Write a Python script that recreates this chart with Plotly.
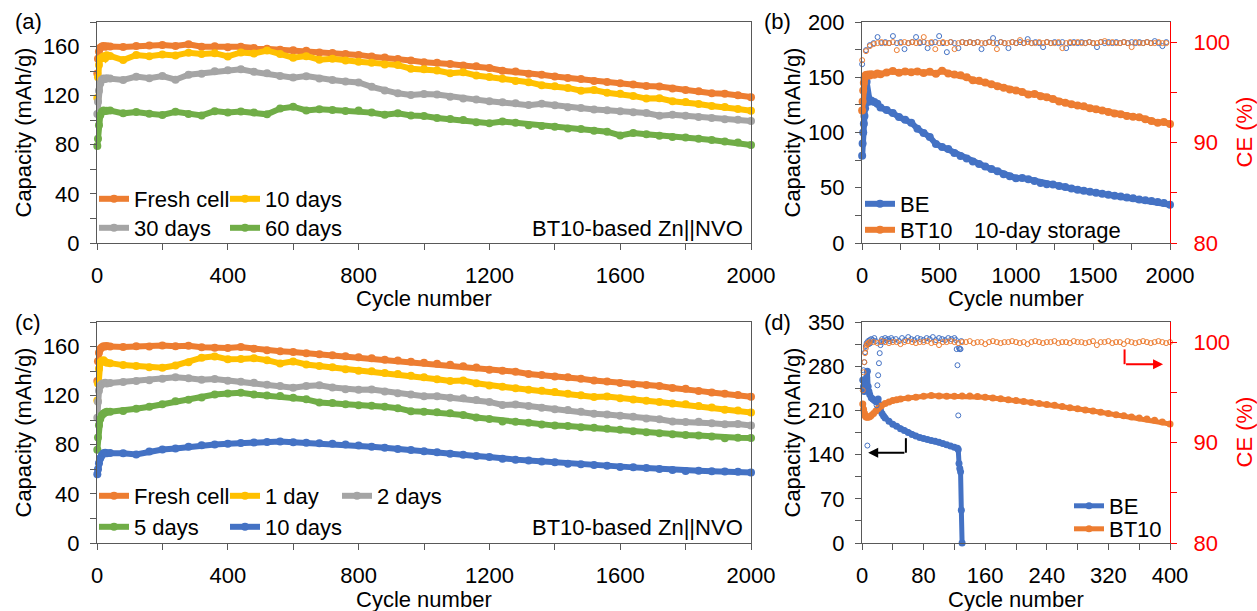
import plotly.graph_objects as go

W, H = 1257, 611
FONT = "Arial, 'Liberation Sans', sans-serif"
AX = "#595959"
C_OR, C_YE, C_GR, C_GN, C_BL = "#ED7D31", "#FFC000", "#A5A5A5", "#70AD47", "#4472C4"
RED = "#FF0000"

# ---------------- data ----------------
ac_x = [1, 3, 6, 10, 15, 20, 25, 30] + list(range(40, 2001, 40))

fresh_a = [138, 150, 156, 159, 160, 160.5, 159.8, 160.3,
           160.1, 159.6, 160.4, 160.9, 161.3, 160.5, 161.8, 159.9, 160.2, 159.4,
           159.9, 158.8, 158.2, 157.5, 156.9, 156.6, 155.2, 154.8, 153.9, 153.2,
           151.8, 151.0, 149.9, 148.6, 147.3, 146.9, 145.8, 144.6, 143.9, 142.5,
           140.3, 139.6, 137.9, 137.0, 135.6, 134.4, 133.5, 132.0, 131.1, 130.2,
           129.0, 127.9, 127.4, 125.9, 124.6, 123.5, 122.0, 121.6, 120.3, 118.8]
d10_a = [118, 135, 145, 150, 151, 152, 150.5, 153,
         152.4, 149.0, 153.1, 152.2, 153.6, 152.7, 155.0, 153.9, 154.6, 152.0,
         155.2, 154.3, 156.8, 153.9, 150.9, 152.2, 149.3, 150.1, 148.6, 147.7,
         146.9, 145.3, 144.9, 142.0, 141.6, 140.5, 138.3, 139.0, 136.4, 135.2,
         133.8, 131.9, 131.0, 128.5, 127.6, 126.3, 124.0, 124.6, 122.4, 121.5,
         119.8, 117.6, 117.9, 115.5, 114.9, 113.2, 111.6, 110.8, 109.2, 107.7]
d30_a = [105, 115, 124, 130, 133, 134, 133.5, 134.2,
         133.9, 132.8, 135.5, 134.2, 136.0, 133.0, 137.1, 137.9, 139.8, 140.6,
         141.5, 139.4, 138.2, 136.0, 134.7, 135.9, 134.0, 132.8, 131.5, 130.8,
         127.2, 124.3, 121.9, 120.5, 121.4, 121.0, 119.2, 117.6, 116.8, 115.5,
         114.6, 113.9, 112.3, 113.5, 112.2, 110.6, 109.9, 108.7, 108.2, 107.4,
         106.5, 105.8, 103.7, 104.5, 103.6, 102.7, 101.9, 100.8, 100.4, 99.3]
d60_a = [79, 85, 96, 104, 107, 108, 107.5, 107.8,
         107.9, 105.6, 106.6, 105.2, 104.3, 106.8, 105.0, 103.9, 107.4, 106.3,
         107.1, 106.2, 104.8, 109.5, 111.0, 108.0, 108.9, 108.4, 107.6, 107.9,
         106.2, 104.5, 105.6, 103.9, 103.5, 101.8, 100.9, 100.2, 98.4, 97.6,
         98.9, 98.0, 96.0, 95.3, 94.6, 93.2, 92.8, 91.5, 90.7, 87.6,
         89.6, 88.5, 87.3, 86.3, 86.0, 84.9, 83.9, 82.6, 81.8, 79.9]

fresh_c = [132, 148, 155, 158, 159.5, 160.2, 160.0, 160.4,
           160.0, 159.6, 160.3, 160.0, 160.9, 160.2, 160.6, 159.5, 159.0, 158.9,
           159.6, 158.2, 157.0, 156.2, 155.5, 154.6, 153.7, 152.9, 152.2, 151.2,
           150.4, 149.3, 148.7, 147.6, 146.8, 146.0, 145.1, 144.0, 142.9, 141.2,
           140.3, 139.5, 137.6, 136.9, 135.6, 134.9, 133.8, 132.4, 131.6, 130.3,
           129.4, 128.6, 127.9, 126.3, 125.6, 123.9, 122.6, 121.6, 120.6, 119.1]
d1_c = [116, 130, 142, 147, 148.5, 148.8, 147.5, 146.8,
        146.5, 144.9, 144.1, 143.2, 142.8, 144.6, 147.2, 150.9, 152.0, 149.6,
        149.8, 150.5, 148.9, 146.2, 147.9, 145.4, 144.2, 143.1, 141.5, 140.2,
        139.8, 138.4, 137.6, 136.2, 135.0, 133.4, 131.9, 132.4, 130.1, 128.2,
        127.3, 126.0, 124.9, 124.0, 122.9, 121.6, 120.4, 119.0, 119.4, 117.9,
        116.8, 115.9, 114.8, 113.6, 113.1, 111.5, 110.4, 108.6, 108.0, 106.3]
d2_c = [102, 115, 124, 128, 129.5, 130.2, 130.6, 130.0,
        130.4, 131.1, 132.0, 132.5, 133.8, 134.9, 134.1, 133.0, 133.6, 132.2,
        131.4, 130.6, 128.9, 127.8, 126.4, 127.8, 128.4, 126.6, 125.2, 124.8,
        125.1, 123.4, 122.0, 120.9, 119.5, 119.6, 118.3, 117.8, 116.5, 114.9,
        112.4, 112.8, 111.6, 110.2, 108.9, 108.4, 106.8, 105.2, 104.6, 103.7,
        102.9, 101.4, 100.8, 98.9, 98.6, 98.8, 97.5, 96.8, 97.0, 95.6]
d5_c = [76, 86, 96, 101, 104, 105.5, 106.3, 106.8,
        106.9, 107.6, 109.4, 111.0, 113.0, 115.4, 116.6, 118.5, 120.9, 121.8,
        122.3, 121.0, 120.1, 119.7, 118.4, 117.0, 114.5, 114.0, 113.0, 112.2,
        111.8, 111.0, 109.8, 107.3, 107.0, 106.4, 105.6, 104.3, 102.2, 100.9,
        99.0, 98.8, 97.9, 96.5, 95.6, 95.2, 94.3, 93.9, 93.0, 92.2,
        91.0, 90.3, 89.4, 88.6, 87.9, 87.6, 86.8, 85.4, 85.8, 85.5]
d10_c = [56, 60, 65, 69, 71.5, 73, 73.5, 73.2,
         73.4, 73.0, 72.1, 74.6, 76.2, 77.0, 78.4, 79.6, 80.3, 80.8,
         81.5, 81.9, 82.3, 82.6, 82.1, 81.6, 81.2, 80.9, 80.2, 79.4,
         78.4, 77.6, 76.5, 75.8, 74.8, 73.9, 72.7, 71.8, 70.9, 70.1,
         68.6, 67.9, 67.2, 66.4, 65.7, 64.6, 64.1, 63.5, 62.9, 62.0,
         61.6, 61.0, 60.3, 59.4, 58.6, 58.9, 58.5, 58.3, 58.0, 57.5]

b_x = [1, 4, 8, 12, 16, 20, 25, 30, 40, 50, 60, 80, 100] + list(range(120, 2001, 40))
be_b = [79, 90, 100, 108, 115, 122, 135, 146, 131, 128, 129, 127.5, 126,
        122.6, 120.4, 117.6, 114.0, 111.5, 108.9, 103.5, 99.5, 96.0, 89.5,
        86.8, 85.0, 81.5, 78.8, 76.4, 73.8, 71.5, 69.2, 67.0, 64.9,
        62.3, 60.3, 58.7, 58.9, 57.6, 56.0, 54.4, 53.2, 53.0, 51.5,
        50.6, 49.3, 48.1, 47.2, 46.4, 45.5, 44.6, 43.6, 42.8, 42.0,
        41.2, 40.5, 39.4, 38.6, 37.9, 37.1, 36.2, 34.6]
bt10_b = [120, 128, 138, 145, 149, 151, 152, 151.5, 152.4, 151.6, 152.8, 152.2, 153.5,
          152.7, 154.3, 155.6, 154.0, 155.2, 154.6, 155.3, 153.8, 154.9, 153.1,
          155.8, 153.5, 152.4, 151.8, 149.9, 147.3, 146.8, 145.2, 143.6, 141.9,
          140.4, 138.9, 138.1, 136.7, 134.5, 134.9, 132.8, 131.9, 130.3, 128.0,
          126.9, 125.6, 124.4, 123.7, 121.9, 121.0, 119.8, 118.6, 117.3, 116.5,
          115.0, 114.2, 113.8, 111.9, 110.3, 108.9, 109.4, 107.8]
ce_b_x = list(range(1, 2001, 25))
be_ce_b = [97.8, 99.2, 99.7, 99.9, 100.5, 99.9, 100.0, 99.9, 100.6, 99.9,
           100.0, 99.3, 99.9, 100.0, 100.5, 99.9, 100.0, 99.4, 99.9, 100.0,
           100.6, 99.9, 99.0, 100.0, 99.9, 99.4, 100.0, 99.9, 100.0, 99.9,
           100.0, 99.3, 99.9, 100.0, 100.4, 99.9, 100.0, 99.9, 99.4, 100.0,
           99.9, 100.0, 99.9, 100.3, 99.9, 100.0, 99.9, 99.5, 100.0, 99.9,
           100.0, 99.9, 100.0, 99.4, 99.9, 100.0, 99.9, 100.0, 99.9, 100.0,
           99.9, 99.5, 100.0, 99.9, 100.0, 99.9, 100.0, 99.9, 100.0, 99.9,
           100.0, 99.9, 100.0, 99.9, 100.0, 99.9, 100.1, 99.9, 99.6, 100.0]
bt10_ce_b = [98.2, 99.1, 99.6, 99.8, 99.9, 100.0, 99.9, 99.9, 100.0, 99.2,
             99.9, 100.0, 99.9, 100.0, 99.9, 100.0, 100.5, 99.9, 100.0, 99.3,
             99.9, 100.0, 99.9, 100.0, 99.3, 99.9, 100.0, 99.9, 100.0, 99.9,
             100.0, 99.9, 99.9, 100.0, 99.9, 99.3, 100.0, 99.9, 99.9, 100.0,
             99.9, 100.2, 99.9, 100.0, 99.9, 99.9, 100.0, 99.9, 100.0, 99.9,
             99.9, 100.0, 99.4, 99.9, 100.0, 99.9, 100.0, 99.9, 99.9, 100.0,
             99.9, 99.9, 100.0, 100.1, 99.9, 100.0, 99.9, 99.9, 100.0, 99.9,
             99.5, 100.0, 99.9, 99.9, 100.0, 99.9, 99.9, 100.0, 99.9, 99.9]

be_d_x = [1, 2, 3, 4, 5, 6, 7, 8, 9, 10, 12, 14, 16, 18, 20, 21, 22, 24, 26, 28, 30,
          35, 40, 45, 50, 55, 60, 65, 70, 75, 80, 85, 90, 95, 100, 105, 110, 115, 120,
          124, 125, 126, 127, 128, 129, 130]
be_d = [258, 248, 240, 246, 250, 262, 272, 248, 240, 235,
        230, 228, 226, 224, 226, 228, 220, 210, 205, 201, 198,
        193, 188, 185, 181, 178, 175, 172, 169.5, 167, 165.5, 164, 162.5, 161, 159.5,
        157.5, 155.5, 153.5, 151.5,
        150, 148, 126, 118, 113, 52, 0]
bt10_d_x = [1, 2, 3, 4, 5, 6, 8, 10, 12, 15, 18, 21, 25, 30, 35, 40, 45, 50] + list(range(60, 401, 10))
bt10_d = [220, 212, 206, 202, 200, 199, 199, 200, 202, 205, 209, 213, 217, 221, 223.5, 225.5, 227, 228,
          229.5, 231, 232.5, 233.5, 233, 232.5, 232.5, 233, 233, 232,
          231, 229.5, 228.5, 227, 225.5, 224, 222.5, 221, 219.5, 218,
          216, 214, 212.5, 210.5, 209, 207, 205, 203, 201.5, 199.5,
          198, 196.5, 194.5, 191.5, 188.5]
be_ce_d_x = [1, 2, 3, 4, 5, 6, 7, 8, 9, 10, 11, 12, 14, 16, 18, 19, 20, 21, 22, 23, 24, 25, 26,
             28, 30, 32, 34, 36, 38, 40] + list(range(44, 121, 4)) + [122, 123, 124, 125, 126, 127, 128, 129]
be_ce_d = [96.2, 97.2, 98.0, 99.0, 99.6, 99.9, 89.7, 100.1, 99.8, 100.2, 99.9, 100.3,
           100.2, 100.4, 100.1,
           93.7, 95.7, 96.7, 97.9, 98.9, 99.7, 100.0, 100.3,
           100.1, 100.4, 100.2, 100.3, 100.1, 100.4, 100.2,
           100.3, 100.1, 100.4, 100.2, 100.5, 100.3, 100.2, 100.4, 100.3, 100.2,
           100.4, 100.3, 100.5, 100.2, 100.4, 100.3, 100.2, 100.4, 100.3, 100.4,
           100.2, 99.3, 97.7, 92.7, 99.4, 99.3, 99.3, 100.1]
bt10_ce_d_x = [1, 2, 3, 4, 5, 6, 7, 8, 10] + list(range(15, 401, 5))
bt10_ce_d = [95.2, 97.0, 98.0, 98.9, 99.4, 99.7, 99.8, 99.9, 100.0,
             100.0, 99.9, 100.1, 100.0, 99.9, 100.0, 100.0, 99.8, 100.0, 100.1,
             100.0, 99.9, 100.0, 100.0, 100.1, 99.9, 100.0, 99.7, 100.0, 100.0,
             100.1, 100.0, 99.9, 100.0, 100.0, 100.1, 99.9, 100.0, 100.0, 99.8,
             100.0, 100.1, 100.0, 99.9, 100.0, 100.0, 100.1, 100.0, 99.9, 100.0,
             99.8, 100.0, 100.1, 100.0, 99.9, 100.0, 100.0, 100.1, 99.9, 100.0,
             100.0, 99.9, 100.1, 100.0, 100.0, 99.9, 100.0, 100.1, 99.7, 100.0,
             100.0, 100.1, 99.9, 100.0, 100.0, 99.8, 100.1, 100.0, 99.9, 100.0,
             100.1, 100.0, 99.9, 100.0, 100.1, 100.0, 99.9, 100.0]

# ---------------- helpers ----------------
def px(x):
    return x / W

def py(y):
    return 1 - y / H

XA = [px(97), px(751)]
XB = [px(862), px(1170)]
YT = [py(243), py(22)]
YB = [py(543), py(322)]

TF = dict(family=FONT, size=22, color="black")


def cap(x, y, name, color, xa, ya, legend, lw_entry=None, size=8, lw=6):
    return go.Scatter(x=x, y=y, name=name, mode="lines+markers", xaxis=xa, yaxis=ya,
                      line=dict(color=color, width=lw), marker=dict(color=color, size=size),
                      legend=legend, legendwidth=lw_entry, cliponaxis=False)


def ce(x, y, color, xa, ya):
    return go.Scatter(x=x, y=y, mode="markers", xaxis=xa, yaxis=ya, showlegend=False,
                      marker=dict(symbol="circle-open", color=color, size=5, line=dict(width=1, color=color)),
                      cliponaxis=False)


fig = go.Figure()
# (a)
fig.add_trace(cap(ac_x, fresh_a, "Fresh cell", C_OR, "x", "y", "legend", 86))
fig.add_trace(cap(ac_x, d10_a, "10 days", C_YE, "x", "y", "legend"))
fig.add_trace(cap(ac_x, d30_a, "30 days", C_GR, "x", "y", "legend2", 86))
fig.add_trace(cap(ac_x, d60_a, "60 days", C_GN, "x", "y", "legend2"))
# (b)
fig.add_trace(cap(b_x, be_b, "BE", C_BL, "x2", "y2", "legend3"))
fig.add_trace(cap(b_x, bt10_b, "BT10", C_OR, "x2", "y2", "legend4"))
fig.add_trace(ce(ce_b_x, be_ce_b, C_BL, "x2", "y3"))
fig.add_trace(ce(ce_b_x, bt10_ce_b, C_OR, "x2", "y3"))
# (c)
fig.add_trace(cap(ac_x, fresh_c, "Fresh cell", C_OR, "x3", "y4", "legend5", 86))
fig.add_trace(cap(ac_x, d1_c, "1 day", C_YE, "x3", "y4", "legend5", 67))
fig.add_trace(cap(ac_x, d2_c, "2 days", C_GR, "x3", "y4", "legend5"))
fig.add_trace(cap(ac_x, d5_c, "5 days", C_GN, "x3", "y4", "legend6", 86))
fig.add_trace(cap(ac_x, d10_c, "10 days", C_BL, "x3", "y4", "legend6"))
# (d)
fig.add_trace(cap(be_d_x, be_d, "BE", C_BL, "x4", "y5", "legend7", size=7, lw=5))
fig.add_trace(cap(bt10_d_x, bt10_d, "BT10", C_OR, "x4", "y5", "legend8", size=7, lw=5))
fig.add_trace(ce(be_ce_d_x, be_ce_d, C_BL, "x4", "y6"))
fig.add_trace(ce(bt10_ce_d_x, bt10_ce_d, C_OR, "x4", "y6"))


def xax(domain, anchor, rng, dtick, minor):
    return dict(domain=domain, anchor=anchor, range=rng, tick0=0, dtick=dtick, automargin=False,
                minor=dict(tick0=0, dtick=minor, ticks="outside", ticklen=6, tickcolor=AX, tickwidth=1),
                ticks="outside", ticklen=6, tickcolor=AX, tickwidth=1, linecolor=AX, linewidth=1,
                mirror=True, showgrid=False, zeroline=False, tickfont=TF, ticklabelstandoff=7)


def yax(domain, anchor, rng, dtick, minor, mirror=True):
    return dict(domain=domain, anchor=anchor, range=rng, tick0=0, dtick=dtick, automargin=False,
                minor=dict(tick0=0, dtick=minor, ticks="outside", ticklen=6, tickcolor=AX, tickwidth=1),
                ticks="outside", ticklen=6, tickcolor=AX, tickwidth=1, linecolor=AX, linewidth=1,
                mirror=mirror, showgrid=False, zeroline=False, tickfont=TF, ticklabelstandoff=6)


def ceax(domain, anchor, overlay):
    return dict(domain=domain, anchor=anchor, overlaying=overlay, side="right", range=[80, 102],
                tick0=80, dtick=10, automargin=False,
                minor=dict(tick0=80, dtick=5, ticks="outside", ticklen=6, tickcolor=RED, tickwidth=1),
                ticks="outside", ticklen=6, tickcolor=RED, tickwidth=1, linecolor=RED, linewidth=1,
                showgrid=False, zeroline=False, tickfont=dict(family=FONT, size=22, color=RED),
                ticklabelstandoff=12)


def leg(xpx, cypx):
    return dict(x=px(xpx), y=py(cypx), xanchor="left", yanchor="middle", orientation="h",
                bgcolor="rgba(0,0,0,0)", borderwidth=0, font=TF, tracegroupgap=0,
                itemwidth=30, traceorder="normal")


def txt(text, x, y, xanchor="center", angle=0, color="black"):
    return dict(text=text, x=px(x), y=py(y), xref="paper", yref="paper", xanchor=xanchor,
                yanchor="middle", showarrow=False, textangle=angle,
                font=dict(family=FONT, size=22, color=color))


annotations = [
    txt("(a)", 13, 22, "left"), txt("(b)", 762, 22, "left"),
    txt("(c)", 13, 322, "left"), txt("(d)", 762, 322, "left"),
    txt("Capacity (mAh/g)", 23, 132.5, angle=-90), txt("Capacity (mAh/g)", 23, 432.5, angle=-90),
    txt("Capacity (mAh/g)", 792, 132.5, angle=-90), txt("Capacity (mAh/g)", 792, 432.5, angle=-90),
    txt("CE (%)", 1244, 132.5, angle=-90, color=RED), txt("CE (%)", 1244, 432.5, angle=-90, color=RED),
    txt("Cycle number", 424, 299), txt("Cycle number", 1016, 299),
    txt("Cycle number", 424, 599), txt("Cycle number", 1016, 599),
    txt("BT10-based Zn||NVO", 745, 228, "right"), txt("BT10-based Zn||NVO", 745, 527, "right"),
    txt("10-day storage", 972, 230, "left"),
    dict(x=8, y=143, ax=57, ay=143, xref="x4", yref="y5", axref="x4", ayref="y5", text="",
         showarrow=True, arrowhead=2, arrowsize=1, arrowwidth=2, arrowcolor="black", standoff=0),
    dict(x=391, y=97.8, ax=341, ay=97.8, xref="x4", yref="y6", axref="x4", ayref="y6", text="",
         showarrow=True, arrowhead=2, arrowsize=1, arrowwidth=2, arrowcolor=RED, standoff=0),
]

shapes = [
    dict(type="line", xref="x4", yref="y5", x0=57, x1=57, y0=166, y1=143, line=dict(color="black", width=2)),
    dict(type="line", xref="x4", yref="y6", x0=341, x1=341, y0=99.27, y1=97.8, line=dict(color=RED, width=2)),
]

fig.update_layout(
    width=W, height=H, autosize=False, margin=dict(l=0, r=0, t=0, b=0, pad=0, autoexpand=False),
    paper_bgcolor="white", plot_bgcolor="white", font=TF,
    xaxis=xax(XA, "y", [0, 2000], 400, 200),
    yaxis=yax(YT, "x", [0, 180], 40, 20),
    xaxis2=xax(XB, "y2", [0, 2000], 500, 250),
    yaxis2=yax(YT, "x2", [0, 200], 50, 25, mirror=False),
    yaxis3=ceax(YT, "x2", "y2"),
    xaxis3=xax(XA, "y4", [0, 2000], 400, 200),
    yaxis4=yax(YB, "x3", [0, 180], 40, 20),
    xaxis4=xax(XB, "y5", [0, 400], 80, 40),
    yaxis5=yax(YB, "x4", [0, 350], 70, 35, mirror=False),
    yaxis6=ceax(YB, "x4", "y5"),
    legend=leg(94, 199), legend2=leg(94, 228),
    legend3=leg(860, 204), legend4=leg(860, 230),
    legend5=leg(94, 496), legend6=leg(94, 527),
    legend7=leg(1069, 506), legend8=leg(1069, 529),
    annotations=annotations, shapes=shapes,
)

fig.write_html("out.html",
               post_script="document.body.style.margin='0';document.documentElement.style.overflow='hidden';")
